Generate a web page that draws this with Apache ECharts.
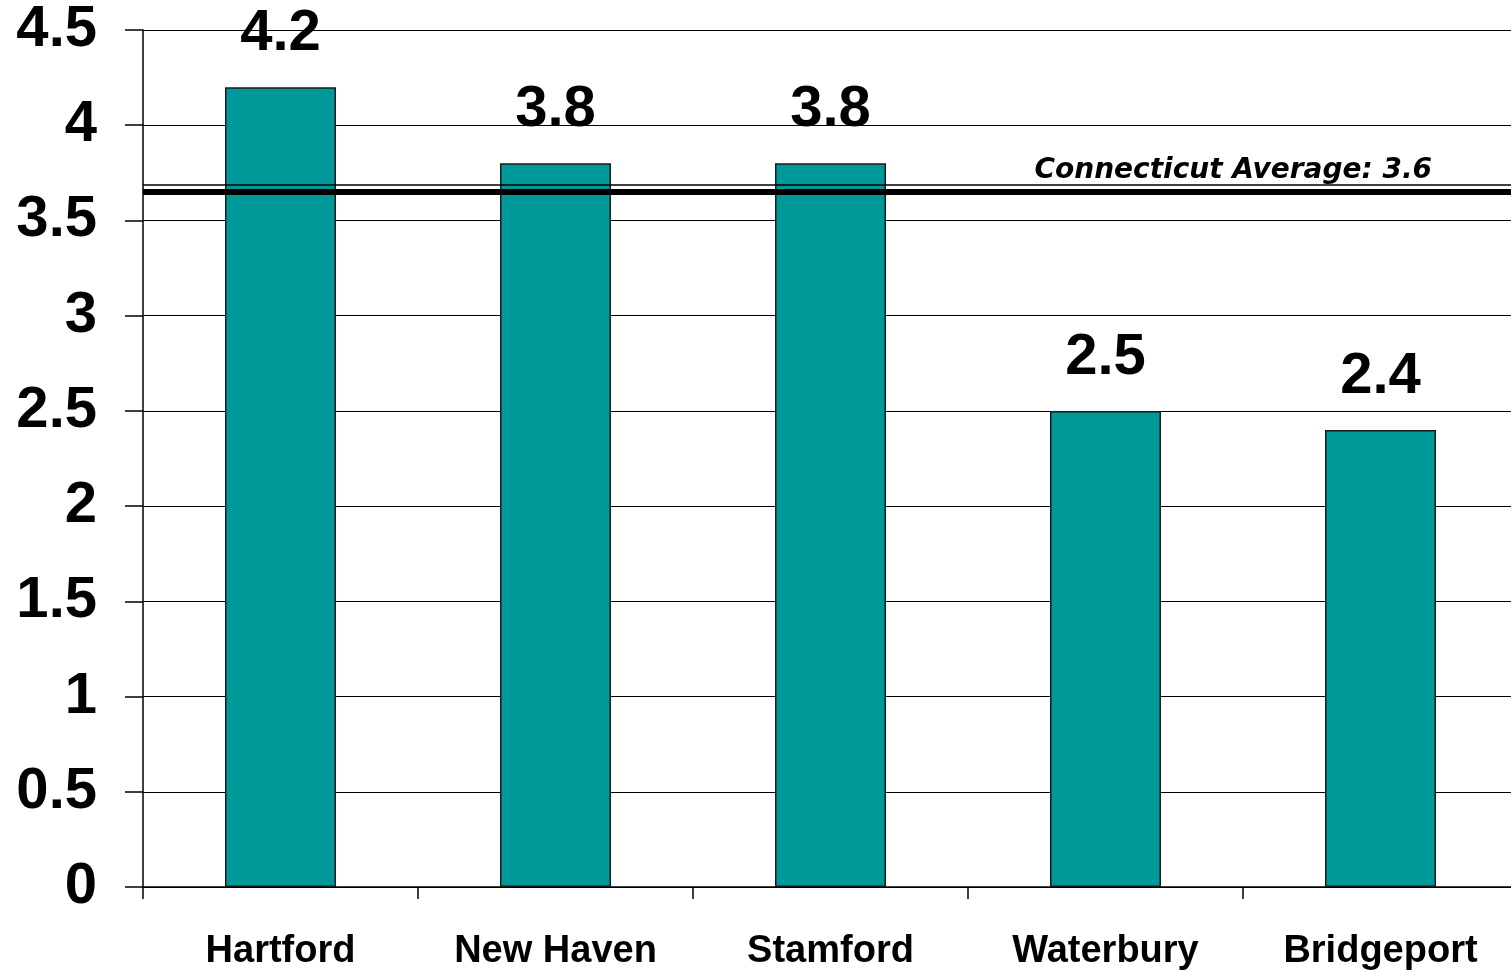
<!DOCTYPE html>
<html>
<head>
<meta charset="utf-8">
<script src="https://cdn.jsdelivr.net/npm/echarts@6/dist/echarts.min.js"></script>
<style>
html,body{margin:0;padding:0;background:#fff;overflow:hidden;width:1511px;height:971px;}
#chart{width:1518px;height:971px;}
</style>
</head>
<body>
<div id="chart"></div>
<script>
const categories = ['Hartford', 'New Haven', 'Stamford', 'Waterbury', 'Bridgeport'];
const values = [4.2, 3.8, 3.8, 2.5, 2.4];
const avgLabel = 'Connecticut Average: 3.6';
const avgLineThick = 3.655;
const avgLineThin = 3.69;
const yMin = 0, yMax = 4.5, yInterval = 0.5;

const chart = echarts.init(document.getElementById('chart'));
chart.setOption({
  animation: false,
  grid: { left: 143, top: 30, width: 1375, height: 858, containLabel: false },
  xAxis: {
    type: 'category',
    data: categories,
    boundaryGap: true,
    axisLine: { lineStyle: { color: '#000', width: 1.5 } },
    axisTick: { show: true, length: 12, lineStyle: { color: '#000', width: 1.5 } },
    axisLabel: {
      color: '#000', fontFamily: 'Liberation Sans, Arial, sans-serif',
      fontWeight: 'bold', fontSize: 38, margin: 46
    },
    splitLine: { show: false }
  },
  yAxis: {
    type: 'value',
    min: yMin, max: yMax, interval: yInterval,
    axisLine: { show: true, lineStyle: { color: '#000', width: 1.5 } },
    axisTick: { show: true, length: 18, lineStyle: { color: '#000', width: 1.5 } },
    axisLabel: {
      color: '#000', fontFamily: 'Liberation Sans, Arial, sans-serif',
      fontWeight: 'bold', fontSize: 58, margin: 46
    },
    splitLine: { show: true, lineStyle: { color: '#000', width: 1.2 } }
  },
  series: [{
    type: 'bar',
    data: values,
    barWidth: 111,
    itemStyle: { color: '#009999', borderColor: '#1a1a1a', borderWidth: 1.5 },
    label: {
      show: true, position: 'top', distance: 24,
      color: '#000', fontFamily: 'Liberation Sans, Arial, sans-serif',
      fontWeight: 'bold', fontSize: 58
    },
    markLine: {
      silent: true,
      symbol: 'none',
      animation: false,
      data: [
        {
          yAxis: avgLineThick,
          lineStyle: { color: '#000', width: 6, type: 'solid' },
          label: { show: false }
        },
        {
          yAxis: avgLineThin,
          lineStyle: { color: '#000', width: 1.5, type: 'solid' },
          label: {
            show: true,
            formatter: avgLabel,
            position: 'insideEndTop',
            distance: [86, 0],
            color: '#000',
            fontFamily: 'DejaVu Sans, sans-serif',
            fontStyle: 'italic',
            fontWeight: 'bold',
            fontSize: 28
          }
        }
      ]
    }
  }]
});
</script>
</body>
</html>
